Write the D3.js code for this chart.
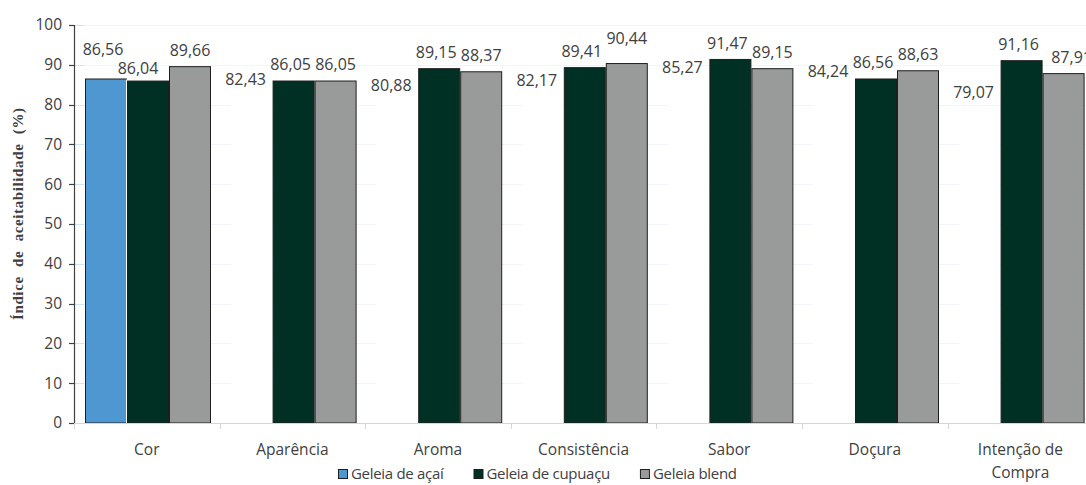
<!DOCTYPE html>
<html>
<head>
<meta charset="utf-8">
<script src="https://cdn.jsdelivr.net/npm/d3@7"></script>
<style>
  html, body { margin: 0; padding: 0; background: #fff; }
  svg { display: block; }
</style>
</head>
<body>
<svg id="chart" width="1086" height="485"></svg>
<script>
const categories = ["Cor", "Aparência", "Aroma", "Consistência", "Sabor", "Doçura", "Intenção de\nCompra"];
const seriesNames = ["Geleia de açaí", "Geleia de cupuaçu", "Geleia blend"];
const acai    = [86.56, 82.43, 80.88, 82.17, 85.27, 84.24, 79.07];
const cupuacu = [86.04, 86.05, 89.15, 89.41, 91.47, 86.56, 91.16];
const blend   = [89.66, 86.05, 88.37, 90.44, 89.15, 88.63, 87.91];
const yTicks  = [0, 10, 20, 30, 40, 50, 60, 70, 80, 90, 100];
const yTitle  = "Índice de aceitabilidade (%)";

(function () {
const seriesValues = [acai, cupuacu, blend];
const colors = ["#4f97d1", "#003023", "#999b9b"];
const fmt = v => v.toFixed(2).replace(".", ",");

const svg = d3.select("#chart");
const pLeft = 74, pTop = 25, pBottom = 423;
const bandW = 145.6;
const x = d3.scaleBand().domain(categories).range([pLeft, pLeft + bandW * categories.length]).padding(0);
const xs = d3.scaleBand().domain(seriesNames).range([11, 11 + 126]).padding(0);
const y = d3.scaleLinear().domain([0, 100]).range([pBottom, pTop]);

const textColor = "#404040";
const numFont = "'Open Sans', sans-serif";

// faint gridlines
svg.append("g").selectAll("line").data(yTicks.filter(t => t > 0)).join("line")
  .attr("x1", pLeft).attr("x2", 1086)
  .attr("y1", d => Math.round(y(d)) + 0.5).attr("y2", d => Math.round(y(d)) + 0.5)
  .attr("stroke", "#f1f5f9").attr("stroke-width", 1);
// short light-blue inner ticks
svg.append("g").selectAll("line").data(yTicks.filter(t => t > 0)).join("line")
  .attr("x1", pLeft).attr("x2", pLeft + 10)
  .attr("y1", d => Math.round(y(d)) + 0.5).attr("y2", d => Math.round(y(d)) + 0.5)
  .attr("stroke", "#d4e5f2").attr("stroke-width", 1);

// bars
const flat = [];
categories.forEach((c, ci) => {
  seriesNames.forEach((s, si) => {
    flat.push({ c, ci, s, si, v: seriesValues[si][ci] });
  });
});

svg.append("g").selectAll("rect").data(flat).join("rect")
  .attr("x", d => x(d.c) + xs(d.s) + 0.5)
  .attr("y", d => y(d.v) + 0.5)
  .attr("width", xs.bandwidth() - 1)
  .attr("height", d => pBottom - y(d.v) - 0.5)
  .attr("fill", d => (d.si === 0 && d.ci !== 0) ? "#ffffff" : colors[d.si])
  .attr("stroke", d => (d.si === 0 && d.ci !== 0) ? "none" : "#1e1e1e")
  .attr("stroke-width", 1);
// white separator right of the açaí bar in Cor
svg.append("line")
  .attr("x1", x(categories[0]) + xs(seriesNames[1]) - 0.5)
  .attr("x2", x(categories[0]) + xs(seriesNames[1]) - 0.5)
  .attr("y1", y(acai[0]) + 1).attr("y2", pBottom)
  .attr("stroke", "#ffffff").attr("stroke-width", 1);

// x axis
svg.append("line").attr("x1", pLeft).attr("x2", 1086)
  .attr("y1", pBottom + 0.5).attr("y2", pBottom + 0.5)
  .attr("stroke", "#d6d6d6").attr("stroke-width", 1);
const bounds = categories.map(c => x(c));
svg.append("g").selectAll("line").data(bounds).join("line")
  .attr("x1", d => Math.round(d) + 0.5).attr("x2", d => Math.round(d) + 0.5)
  .attr("y1", pBottom).attr("y2", pBottom + 6)
  .attr("stroke", "#d6d6d6").attr("stroke-width", 1);

// y axis
svg.append("line").attr("x1", pLeft + 0.5).attr("x2", pLeft + 0.5)
  .attr("y1", pTop).attr("y2", pBottom)
  .attr("stroke", "#404040").attr("stroke-width", 1.2);
svg.append("g").selectAll("line").data(yTicks).join("line")
  .attr("x1", pLeft - 5).attr("x2", pLeft)
  .attr("y1", d => Math.round(y(d)) + 0.5).attr("y2", d => Math.round(y(d)) + 0.5)
  .attr("stroke", "#404040").attr("stroke-width", 1.2);
svg.append("g").selectAll("text").data(yTicks).join("text")
  .attr("x", pLeft - 12).attr("y", d => y(d)).attr("dy", "0.35em")
  .attr("text-anchor", "end")
  .attr("font-family", numFont).attr("font-size", 15.5)
  .attr("fill", textColor)
  .text(d => d);

// value labels
const labelOffset = (d) => {
  if (d.ci === 0 && d.si === 0) return 29;
  if (d.ci === 0 && d.si === 1) return 12;
  if (d.ci === 3 && d.si === 2) return 25;
  return 16;
};
const labelDx = (d) => {
  if (d.ci === 0 && d.si === 1) return -10;
  if (d.ci === 6 && d.si === 2) return 8;
  if (d.si === 0) return d.ci === 0 ? -3 : -6;
  if (d.si === 1) return -3;
  return 0;
};
svg.append("g").selectAll("text").data(flat).join("text")
  .attr("x", d => x(d.c) + xs(d.s) + xs.bandwidth() / 2 + labelDx(d))
  .attr("y", d => y(d.v) - labelOffset(d)).attr("dy", "0.35em")
  .attr("text-anchor", "middle")
  .attr("font-family", numFont).attr("font-size", 16)
  .attr("fill", textColor)
  .text(d => fmt(d.v));

// category labels
const catG = svg.append("g");
categories.forEach(c => {
  const lines = c.split("\n");
  const t = catG.append("text")
    .attr("text-anchor", "middle")
    .attr("font-family", numFont).attr("font-size", 15.5)
    .attr("fill", textColor);
  lines.forEach((ln, i) => {
    t.append("tspan").attr("x", x(c) + x.bandwidth() / 2)
      .attr("y", 450 + i * 23).attr("dy", "0.35em").text(ln);
  });
});

// y title
svg.append("text")
  .attr("transform", "translate(18,214) rotate(-90)")
  .attr("text-anchor", "middle").attr("dy", "0.35em")
  .attr("font-family", "'Liberation Serif', 'Times New Roman', serif")
  .attr("font-weight", "bold").attr("font-size", 15)
  .attr("fill", textColor)
  .attr("word-spacing", 5)
  .attr("textLength", 212).attr("lengthAdjust", "spacing")
  .text(yTitle);

// legend
const lg = svg.append("g");
let lx = 338;
seriesNames.forEach((s, i) => {
  lg.append("rect").attr("x", lx + 0.5).attr("y", 469.5).attr("width", 9).attr("height", 9)
    .attr("fill", colors[i]).attr("stroke", "#1e1e1e").attr("stroke-width", 1);
  const t = lg.append("text").attr("x", lx + 13).attr("y", 474).attr("dy", "0.35em")
    .attr("font-family", numFont).attr("font-size", 15).attr("fill", textColor)
    .attr("letter-spacing", -0.3)
    .text(s);
  lx += 13 + t.node().getComputedTextLength() + 30;
});
})();
</script>
</body>
</html>
